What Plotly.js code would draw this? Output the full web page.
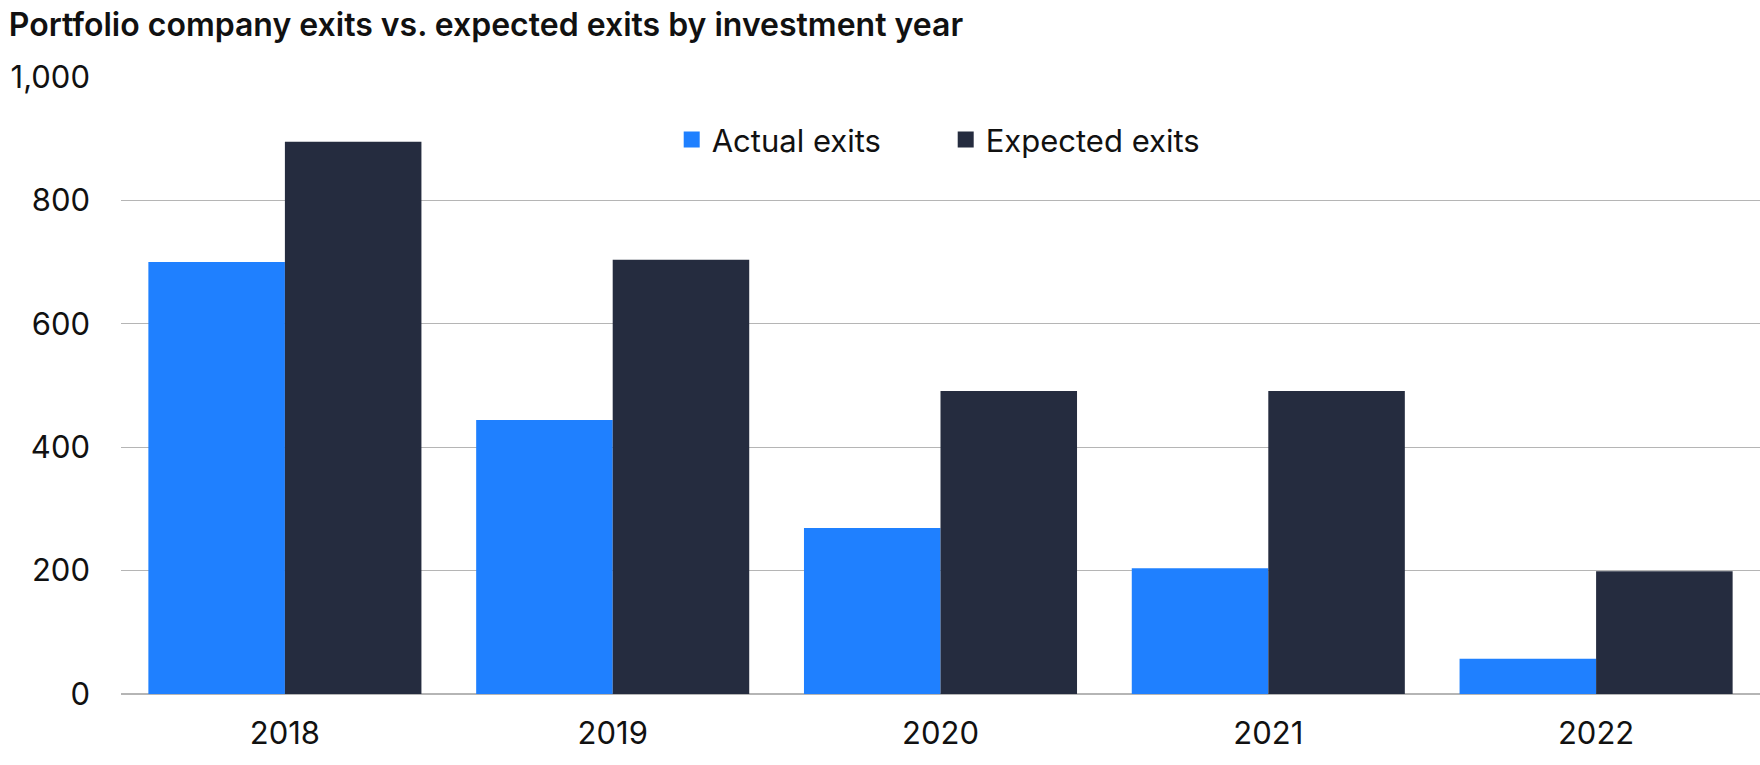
<!DOCTYPE html>
<html>
<head>
<meta charset="utf-8">
<script src="https://cdn.plot.ly/plotly-3.0.1.min.js"></script>
<style>html,body{margin:0;padding:0;background:#fff} #chart{width:1760px;height:765px}</style>
</head>
<body>
<div id="chart"></div>
<script>
// data
years = ['2018','2019','2020','2021','2022']
actualExits = [700, 444, 269, 204, 57]
expectedExits = [895, 704, 491, 491, 199]
yTicks = [0, 200, 400, 600, 800, 1000]
yTickText = ['0','200','400','600','800','1,000']
seriesNames = ['Actual exits', 'Expected exits']
seriesColors = ['#1f80ff', '#252c3f']

fnt = 'Inter, "Noto Sans", sans-serif'

traces = [
  {type:'bar', name:seriesNames[0], x:years, y:actualExits, marker:{color:seriesColors[0]}, showlegend:false},
  {type:'bar', name:seriesNames[1], x:years, y:expectedExits, marker:{color:seriesColors[1]}, showlegend:false}
]
// legend-only entries so the swatches can be the bigger squares of the original
seriesNames.forEach(function (n, i) {
  traces.push({type:'scatter', mode:'markers', name:n, x:[null], y:[null],
    marker:{symbol:'square', size:17, color:seriesColors[i]}})
})

layout = {
  width:1760, height:765,
  margin:{l:121, r:0, t:77, b:71},
  paper_bgcolor:'#fff', plot_bgcolor:'#fff',
  font:{family:fnt, size:31, color:'#111'},
  title:{text:'Portfolio company exits vs. expected exits by investment year',
    x:0.005, xanchor:'left', xref:'container', y:0.967, yanchor:'middle', yref:'container',
    font:{family:fnt, size:32, weight:600, color:'#111'}},
  barmode:'group', bargap:0.167, bargroupgap:0,
  showlegend:true,
  legend:{orientation:'h', x:0.336, xanchor:'left', y:0.898, yanchor:'middle',
    font:{family:fnt, size:31, color:'#111'}, bgcolor:'rgba(0,0,0,0)', entrywidth:229, entrywidthmode:'pixels'},
  xaxis:{showgrid:false, zeroline:false, showline:false, ticks:'', ticklabelstandoff:18,
    tickfont:{family:fnt, size:31, color:'#111'}},
  yaxis:{range:[0,1000], tickvals:yTicks, ticktext:yTickText, showgrid:true,
    gridcolor:'#b5b5b5', gridwidth:1.3, zeroline:true, zerolinecolor:'#b5b5b5', zerolinewidth:1.3,
    showline:false, ticks:'', ticklabelstandoff:30, tickfont:{family:fnt, size:31, color:'#111'}}
}

Plotly.newPlot('chart', traces, layout, {displayModeBar:false, staticPlot:true})
</script>
</body>
</html>
